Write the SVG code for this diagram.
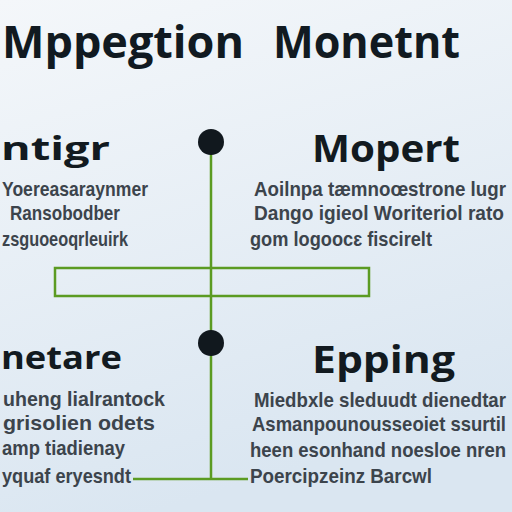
<svg xmlns="http://www.w3.org/2000/svg" width="512" height="512" viewBox="0 0 512 512">
  <defs>
    <linearGradient id="bg" x1="0" y1="0" x2="0.3" y2="1">
      <stop offset="0" stop-color="#f4f7fa"/>
      <stop offset="1" stop-color="#dae6f1"/>
    </linearGradient>
  </defs>
  <style>
    .title { font-family: "Open Sans", "Liberation Sans", sans-serif; font-weight: 700; fill: #111a21; }
    .head { font-family: "Open Sans", "Liberation Sans", sans-serif; font-weight: 700; fill: #121a20; }
    .body { font-family: "Liberation Sans", "DejaVu Sans", sans-serif; font-weight: 700; fill: #3c444c; font-size: 21px; }
    .line { stroke: #5b9b22; stroke-width: 2.5; fill: none; }
    .dot { fill: #11181e; }
  </style>
  <rect width="512" height="512" fill="url(#bg)"/>

  <g id="title">
    <text class="title" x="2" y="58" font-size="44" textLength="242" lengthAdjust="spacingAndGlyphs">Mppegtion</text>
    <text class="title" x="273" y="58" font-size="44" textLength="187" lengthAdjust="spacingAndGlyphs">Monetnt</text>
  </g>

  <g id="connectors">
    <line class="line" x1="211" y1="142" x2="211" y2="479"/>
    <rect class="line" x="55" y="268" width="314" height="28"/>
    <line class="line" x1="133" y1="479" x2="248" y2="479"/>
  </g>

  <g id="node-top-left">
    <text class="head" x="1" y="160" font-size="32" textLength="109" lengthAdjust="spacingAndGlyphs">ntigr</text>
    <text class="body" x="2" y="196" textLength="146" lengthAdjust="spacingAndGlyphs">Yoereasaraynmer</text>
    <text class="body" x="10" y="220" textLength="110" lengthAdjust="spacingAndGlyphs">Ransobodber</text>
    <text class="body" x="2" y="246" textLength="126" lengthAdjust="spacingAndGlyphs">zsguoeoqrleuirk</text>
  </g>

  <g id="node-top-right">
    <text class="head" x="312" y="162" font-size="37" textLength="148" lengthAdjust="spacingAndGlyphs">Mopert</text>
    <text class="body" x="254" y="196" textLength="252" lengthAdjust="spacingAndGlyphs">Aoilnpa tæmnoœstrone lugr</text>
    <text class="body" x="254" y="220" textLength="250" lengthAdjust="spacingAndGlyphs">Dango igieol Woriteriol rato</text>
    <text class="body" x="250" y="246" textLength="182" lengthAdjust="spacingAndGlyphs">gom logoocɛ fiscirelt</text>
  </g>

  <g id="node-top-dot">
    <circle class="dot" cx="211" cy="142" r="13"/>
  </g>

  <g id="node-bottom-dot">
    <circle class="dot" cx="211" cy="343" r="13"/>
  </g>

  <g id="node-bottom-left">
    <text class="head" x="1" y="369" font-size="32" textLength="121" lengthAdjust="spacingAndGlyphs">netare</text>
    <text class="body" x="3" y="406" textLength="162" lengthAdjust="spacingAndGlyphs">uheng lialrantock</text>
    <text class="body" x="3" y="430" textLength="152" lengthAdjust="spacingAndGlyphs">grisolien odets</text>
    <text class="body" x="2" y="455" textLength="123" lengthAdjust="spacingAndGlyphs">amp tiadienay</text>
    <text class="body" x="2" y="483" textLength="129" lengthAdjust="spacingAndGlyphs">yquaf eryesndt</text>
  </g>

  <g id="node-bottom-right">
    <text class="head" x="312" y="373" font-size="38" textLength="143" lengthAdjust="spacingAndGlyphs">Epping</text>
    <text class="body" x="254" y="407" textLength="252" lengthAdjust="spacingAndGlyphs">Miedbxle sleduudt dienedtar</text>
    <text class="body" x="252" y="431" textLength="254" lengthAdjust="spacingAndGlyphs">Asmanpounousseoiet ssurtil</text>
    <text class="body" x="250" y="457" textLength="256" lengthAdjust="spacingAndGlyphs">heen esonhand noesloe nren</text>
    <text class="body" x="250" y="483" textLength="182" lengthAdjust="spacingAndGlyphs">Poercipzeinz Barcwl</text>
  </g>
</svg>
